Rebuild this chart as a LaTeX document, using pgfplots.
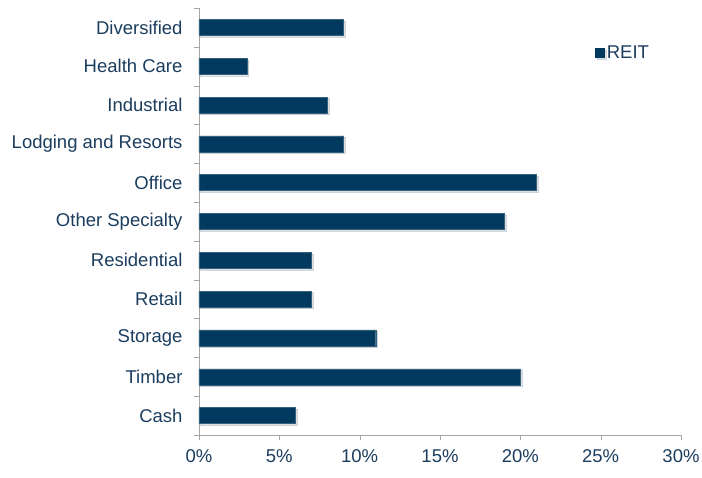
\documentclass[border=0pt]{standalone}
\usepackage{pgfplots}
\pgfplotsset{compat=1.18}
\usepackage{fontspec}
\setmainfont{Liberation Sans}
\usetikzlibrary{shadows}
\definecolor{reit}{HTML}{023A5F}
\definecolor{txt}{HTML}{1B3D5E}
\definecolor{axgray}{HTML}{A6A6A6}
\begin{document}
\begin{tikzpicture}
\begin{axis}[
  xbar,
  scale only axis,
  width=482pt, height=427pt,
  xmin=0, xmax=30,
  ymin=-0.5, ymax=10.5,
  y dir=reverse,
  axis lines*=left,
  axis line style={axgray},
  /pgf/number format/assume math mode=true,
  xtick={0,5,10,15,20,25,30},
  xticklabels={0\%,5\%,10\%,15\%,20\%,25\%,30\%},
  xtick style={axgray},
  tick align=outside,
  major tick length=5pt,
  ytick={0,1,2,3,4,5,6,7,8,9,10},
  yticklabels={Diversified,Health Care,Industrial,Lodging and Resorts,Office,Other Specialty,Residential,Retail,Storage,Timber,Cash},
  ytick style={draw=none},
  yticklabel style={xshift=-8pt},
  xticklabel style={yshift=-6pt},
  extra y ticks={-0.5,0.5,1.5,2.5,3.5,4.5,5.5,6.5,7.5,8.5,9.5,10.5},
  extra y tick labels={},
  extra y tick style={ytick style={draw=axgray}, tick align=outside},
  tick label style={text=txt, font=\fontsize{18.5}{21}\selectfont},
  bar width=16pt,
  legend style={at={(rel axis cs:0.822,0.895)}, anchor=west, draw=none, fill=none,
    font=\fontsize{18.5}{21}\selectfont, text=txt, inner sep=0pt,
    /tikz/every even column/.append style={column sep=0pt}},
  legend image code/.code={\fill[reit] (0pt,-4.5pt) rectangle (9pt,4.5pt);},
  legend cell align=left,
  clip=false
]
\addplot[fill=reit, draw=reit!80!white, line width=0.4pt,
  drop shadow={opacity=0.25, shadow xshift=1.5pt, shadow yshift=-1.5pt}]
  coordinates {(9,0) (3,1) (8,2) (9,3) (21,4) (19,5) (7,6) (7,7) (11,8) (20,9) (6,10)};
\legend{REIT}
\end{axis}
\pgfresetboundingbox
\path[use as bounding box] (current axis.south west) ++(-199pt,-43pt) rectangle ++(702pt,478pt);
\end{tikzpicture}
\end{document}
